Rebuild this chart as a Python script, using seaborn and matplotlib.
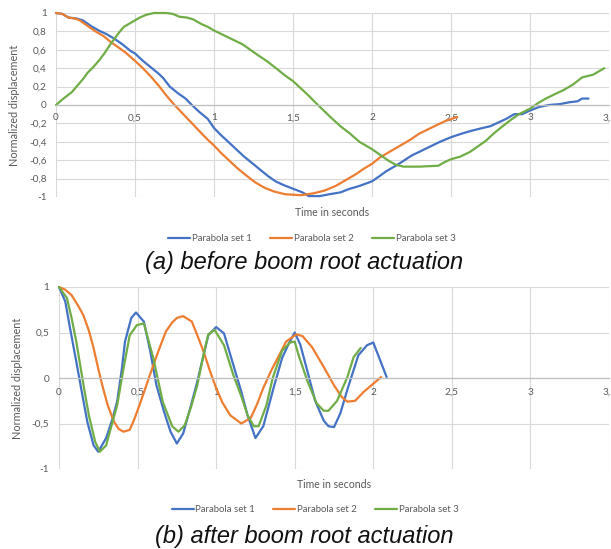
import pandas as pd
import matplotlib
matplotlib.use("Agg")
import matplotlib.pyplot as plt
import seaborn as sns
from matplotlib.ticker import FuncFormatter, MultipleLocator

SERIES = ["Parabola set 1", "Parabola set 2", "Parabola set 3"]
COLORS = ["#4472C4", "#ED7D31", "#70AD47"]

# (a) before boom root actuation
t_a1 = [0, 0.04, 0.08, 0.13, 0.17, 0.22, 0.27, 0.32, 0.37, 0.42, 0.47, 0.5, 0.55, 0.6, 0.65,
        0.68, 0.72, 0.77, 0.82, 0.86, 0.91, 0.96, 1.0, 1.04, 1.09, 1.14, 1.19, 1.24, 1.29, 1.34,
        1.39, 1.44, 1.5, 1.56, 1.6, 1.67, 1.73, 1.8, 1.86, 1.92, 2.0, 2.05, 2.09, 2.17, 2.25,
        2.31, 2.37, 2.43, 2.5, 2.57, 2.63, 2.7, 2.75, 2.8, 2.85, 2.9, 2.95, 3.0, 3.06, 3.12,
        3.19, 3.25, 3.3, 3.33, 3.37]
y_a1 = [1, 0.99, 0.95, 0.94, 0.92, 0.86, 0.81, 0.77, 0.72, 0.66, 0.59, 0.56, 0.48, 0.41, 0.34,
        0.29, 0.2, 0.13, 0.07, 0.0, -0.08, -0.15, -0.25, -0.32, -0.4, -0.48, -0.56, -0.63, -0.7,
        -0.77, -0.83, -0.87, -0.91, -0.95, -0.99, -0.99, -0.97, -0.95, -0.91, -0.88, -0.83,
        -0.77, -0.72, -0.64, -0.55, -0.5, -0.45, -0.4, -0.35, -0.31, -0.28, -0.25, -0.23,
        -0.19, -0.15, -0.1, -0.1, -0.06, -0.02, 0.0, 0.01, 0.03, 0.04, 0.07, 0.07]
t_a2 = [0, 0.04, 0.08, 0.12, 0.15, 0.2, 0.25, 0.3, 0.35, 0.4, 0.44, 0.5, 0.55, 0.6, 0.65, 0.7,
        0.75, 0.8, 0.85, 0.9, 0.95, 1.0, 1.05, 1.1, 1.15, 1.2, 1.26, 1.32, 1.38, 1.45, 1.55,
        1.63, 1.7, 1.77, 1.83, 1.9, 1.95, 2.0, 2.05, 2.12, 2.18, 2.24, 2.3, 2.36, 2.42, 2.47, 2.54]
y_a2 = [1, 0.99, 0.95, 0.94, 0.92, 0.86, 0.8, 0.75, 0.68, 0.62, 0.57, 0.48, 0.4, 0.31, 0.21, 0.1,
        0.0, -0.09, -0.18, -0.27, -0.36, -0.44, -0.53, -0.61, -0.69, -0.76, -0.84, -0.9, -0.94,
        -0.97, -0.98, -0.96, -0.93, -0.88, -0.82, -0.75, -0.69, -0.64, -0.57, -0.5, -0.44,
        -0.38, -0.31, -0.26, -0.21, -0.17, -0.13]
t_a3 = [0, 0.04, 0.07, 0.1, 0.13, 0.17, 0.2, 0.24, 0.28, 0.31, 0.34, 0.37, 0.4, 0.43, 0.48,
        0.53, 0.57, 0.62, 0.7, 0.74, 0.78, 0.83, 0.87, 0.92, 0.96, 1.0, 1.06, 1.12, 1.18, 1.23,
        1.28, 1.34, 1.4, 1.45, 1.5, 1.55, 1.6, 1.64, 1.67, 1.73, 1.8, 1.86, 1.92, 2.0, 2.05,
        2.1, 2.15, 2.2, 2.3, 2.42, 2.46, 2.5, 2.56, 2.62, 2.67, 2.72, 2.77, 2.82, 2.88, 2.93,
        3.0, 3.05, 3.1, 3.16, 3.21, 3.27, 3.33, 3.4, 3.47]
y_a3 = [0.0, 0.06, 0.1, 0.14, 0.2, 0.28, 0.35, 0.42, 0.5, 0.57, 0.65, 0.72, 0.79, 0.85, 0.9,
        0.95, 0.98, 1.0, 1.0, 0.99, 0.96, 0.95, 0.93, 0.88, 0.85, 0.81, 0.76, 0.71, 0.66, 0.6,
        0.54, 0.47, 0.39, 0.32, 0.26, 0.18, 0.1, 0.03, -0.02, -0.12, -0.23, -0.31, -0.4, -0.48,
        -0.54, -0.6, -0.65, -0.67, -0.67, -0.66, -0.62, -0.59, -0.56, -0.51, -0.45, -0.39,
        -0.31, -0.24, -0.16, -0.1, -0.04, 0.02, 0.07, 0.12, 0.16, 0.22, 0.3, 0.33, 0.4]

# (b) after boom root actuation
t_b1 = [0, 0.04, 0.07, 0.11, 0.15, 0.18, 0.22, 0.25, 0.3, 0.34, 0.37, 0.4, 0.42, 0.46, 0.49,
        0.54, 0.58, 0.62, 0.67, 0.71, 0.75, 0.79, 0.84, 0.88, 0.95, 1.0, 1.05, 1.11, 1.16, 1.2,
        1.25, 1.3, 1.37, 1.42, 1.46, 1.5, 1.535, 1.58, 1.63, 1.685, 1.715, 1.75, 1.79, 1.84,
        1.905, 1.96, 2.0, 2.085]
y_b1 = [1, 0.84, 0.55, 0.18, -0.2, -0.48, -0.74, -0.81, -0.66, -0.45, -0.26, 0.1, 0.4, 0.66,
        0.72, 0.62, 0.3, -0.08, -0.38, -0.59, -0.72, -0.61, -0.3, -0.04, 0.47, 0.56, 0.49, 0.14,
        -0.15, -0.41, -0.66, -0.53, -0.08, 0.22, 0.37, 0.5, 0.37, 0.08, -0.25, -0.47, -0.53,
        -0.54, -0.39, -0.1, 0.25, 0.36, 0.39, 0.01]
t_b2 = [0, 0.04, 0.08, 0.12, 0.155, 0.19, 0.22, 0.25, 0.28, 0.31, 0.35, 0.38, 0.41, 0.45, 0.48,
        0.52, 0.56, 0.6, 0.64, 0.68, 0.72, 0.75, 0.79, 0.845, 0.88, 0.92, 0.96, 1.0, 1.04, 1.09,
        1.16, 1.22, 1.26, 1.3, 1.35, 1.41, 1.445, 1.51, 1.55, 1.61, 1.685, 1.75, 1.8, 1.835,
        1.885, 1.94, 2.05]
y_b2 = [1, 0.97, 0.91, 0.8, 0.69, 0.52, 0.33, 0.1, -0.11, -0.3, -0.48, -0.56, -0.59, -0.57,
        -0.45, -0.26, -0.06, 0.14, 0.33, 0.51, 0.61, 0.66, 0.68, 0.62, 0.47, 0.29, 0.08, -0.11,
        -0.27, -0.41, -0.5, -0.44, -0.29, -0.11, 0.08, 0.28, 0.4, 0.48, 0.46, 0.34, 0.12, -0.08,
        -0.21, -0.26, -0.25, -0.15, 0.01]
t_b3 = [0, 0.05, 0.08, 0.11, 0.135, 0.16, 0.19, 0.23, 0.26, 0.3, 0.33, 0.37, 0.41, 0.45, 0.495,
        0.54, 0.6, 0.66, 0.72, 0.76, 0.8, 0.84, 0.88, 0.92, 0.95, 0.99, 1.05, 1.11, 1.16, 1.2,
        1.24, 1.27, 1.32, 1.36, 1.42, 1.47, 1.5, 1.525, 1.58, 1.64, 1.685, 1.715, 1.77, 1.835,
        1.875, 1.92]
y_b3 = [1, 0.88, 0.66, 0.4, 0.14, -0.12, -0.41, -0.7, -0.81, -0.74, -0.55, -0.3, 0.1, 0.47,
        0.58, 0.6, 0.22, -0.26, -0.53, -0.59, -0.52, -0.32, -0.08, 0.26, 0.48, 0.53, 0.36, 0.03,
        -0.2, -0.41, -0.53, -0.53, -0.3, 0.0, 0.3, 0.39, 0.4, 0.25, -0.03, -0.28, -0.36, -0.36,
        -0.25, 0.01, 0.23, 0.33]

GRAY = "#595959"
TICK_FONT = "Lato"


def to_frame(ts, ys):
    parts = [pd.DataFrame({"t": t, "y": y, "series": name})
             for name, t, y in zip(SERIES, ts, ys)]
    return pd.concat(parts, ignore_index=True)


def comma(v, pos):
    v = round(v, 2)
    if abs(v) < 1e-9:
        v = 0
    return f"{v:g}".replace(".", ",")


def draw_panel(ax, df, ystep, ypad, xpad, legend_x):
    sns.lineplot(data=df, x="t", y="y", hue="series", palette=COLORS,
                 estimator=None, sort=False, linewidth=1.6, ax=ax)
    for line in ax.get_lines():
        line.set_clip_on(False)
    ax.set_xlim(0, 3.5)
    ax.set_ylim(-1, 1)
    ax.xaxis.set_major_locator(MultipleLocator(0.5))
    ax.yaxis.set_major_locator(MultipleLocator(ystep))
    ax.xaxis.set_major_formatter(FuncFormatter(comma))
    ax.yaxis.set_major_formatter(FuncFormatter(comma))
    ax.grid(True, color="#d9d9d9", linewidth=0.8)
    ax.set_axisbelow(True)
    for side in ["top", "right", "left"]:
        ax.spines[side].set_visible(False)
    ax.spines["bottom"].set_position(("data", 0))
    ax.spines["bottom"].set_color("#bfbfbf")
    ax.spines["bottom"].set_linewidth(0.9)
    ax.tick_params(axis="y", length=0, pad=ypad, labelsize=7.2, labelcolor=GRAY)
    ax.tick_params(axis="x", length=0, pad=xpad, labelsize=7.2, labelcolor=GRAY)
    for lab in ax.get_xticklabels() + ax.get_yticklabels():
        lab.set_family(TICK_FONT)
    ax.set_xlabel("Time in seconds", fontsize=7.6, color=GRAY, family=TICK_FONT)
    ax.xaxis.set_label_coords(0.5, -0.055)
    ax.set_ylabel("Normalized displacement", fontsize=7.8, color=GRAY, family=TICK_FONT)
    ax.yaxis.set_label_coords(-0.065, 0.5)
    sns.move_legend(ax, "center", bbox_to_anchor=(legend_x, -0.225), ncol=3,
                    frameon=False, title=None, fontsize=6.9, handlelength=2.3,
                    handletextpad=0.2, columnspacing=1.9)
    for txt in ax.get_legend().get_texts():
        txt.set_color(GRAY)
        txt.set_family(TICK_FONT)


sns.set_style("white")
plt.rcParams["font.family"] = ["Liberation Sans", "DejaVu Sans"]

fig = plt.figure(figsize=(6.11, 5.49), dpi=100)
ax_a = fig.add_axes([56 / 611, 1 - 197 / 549, 553 / 611, 184 / 549])
ax_b = fig.add_axes([59 / 611, 1 - 469 / 549, 550 / 611, 182 / 549])

draw_panel(ax_a, to_frame([t_a1, t_a2, t_a3], [y_a1, y_a2, y_a3]), 0.2, 6.5, 6, 0.463)
draw_panel(ax_b, to_frame([t_b1, t_b2, t_b3], [y_b1, y_b2, y_b3]), 0.5, 7, 7, 0.466)

fig.text(0.4975, 1 - 263 / 549, "(a) before boom root actuation", ha="center", va="center",
         fontsize=17, style="italic", color="#111111")
fig.text(0.4975, 1 - 537 / 549, "(b) after boom root actuation", ha="center", va="center",
         fontsize=17, style="italic", color="#111111")

fig.savefig("out.png", dpi=100)
